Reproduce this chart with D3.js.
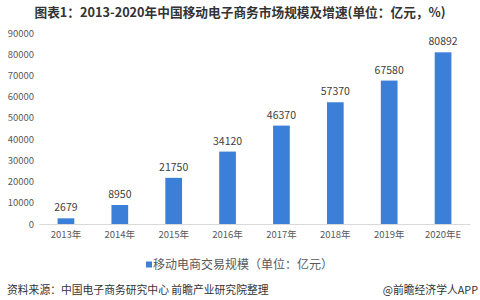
<!DOCTYPE html>
<html><head><meta charset="utf-8">
<script src="https://cdn.jsdelivr.net/npm/d3@7"></script>
<style>
html,body{margin:0;padding:0;background:#fff;}
svg{display:block;font-family:"Noto Sans CJK SC","Noto Sans",sans-serif;}
</style></head>
<body>
<svg id="c" width="480" height="300"></svg>
<script>
const categories = ["2013年","2014年","2015年","2016年","2017年","2018年","2019年","2020年E"];
const values = [2679, 8950, 21750, 34120, 46370, 57370, 67580, 80892];
const yTicks = [0,10000,20000,30000,40000,50000,60000,70000,80000,90000];
const title = "图表1：2013-2020年中国移动电子商务市场规模及增速(单位：亿元，%)";
const legendLabel = "移动电商交易规模（单位：亿元）";
const sourceText = "资料来源：中国电子商务研究中心 前瞻产业研究院整理";
const brandText = "@前瞻经济学人APP";

const svg = d3.select("#c");
const barColor = "#3b7fd9";

const x = d3.scaleBand().domain(categories).range([39, 470]).paddingInner(0.69).paddingOuter(0.345);
const y = d3.scaleLinear().domain([0, 90000]).range([224, 33]);

svg.append("text").attr("x", 240).attr("y", 17).attr("text-anchor","middle")
  .attr("font-size", 12.7).attr("font-weight","bold").attr("fill","#333").text(title);

// y axis labels
const ya = svg.append("g").attr("transform","translate(34,0)")
  .call(d3.axisLeft(y).tickValues(yTicks).tickSize(0).tickPadding(0).tickFormat(d3.format("d")));
ya.select(".domain").remove();
ya.selectAll("text").attr("font-size", 9.5).attr("fill","#595959").attr("font-family","Noto Sans CJK SC");

// x axis
const xa = svg.append("g").attr("transform","translate(0,224)")
  .call(d3.axisBottom(x).tickSize(0).tickPadding(7));
xa.select(".domain").attr("stroke","#d9d9d9");
xa.selectAll("text").attr("font-size", 9.5).attr("fill","#595959").attr("font-family","Noto Sans CJK SC");

// bars
svg.append("g").selectAll("rect").data(values).join("rect")
  .attr("x",(d,i)=>x(categories[i])).attr("width",x.bandwidth())
  .attr("y",d=>y(d)).attr("height",d=>y(0)-y(d)).attr("fill",barColor);

// value labels
svg.append("g").selectAll("text").data(values).join("text")
  .attr("x",(d,i)=>x(categories[i])+x.bandwidth()/2).attr("y",d=>y(d)-7)
  .attr("text-anchor","middle").attr("font-size",10.5).attr("fill","#404040").text(d=>d);

// legend
svg.append("rect").attr("x",146).attr("y",261.5).attr("width",6).attr("height",6).attr("fill",barColor);
svg.append("text").attr("x",153).attr("y",269).attr("font-size",12).attr("fill","#595959").text(legendLabel);

// footer
svg.append("text").attr("x",7).attr("y",294).attr("font-size",10.8).attr("fill","#333").text(sourceText);
svg.append("text").attr("x",478).attr("y",294).attr("text-anchor","end").attr("font-size",10.8).attr("fill","#333").text(brandText);
</script>
</body></html>
